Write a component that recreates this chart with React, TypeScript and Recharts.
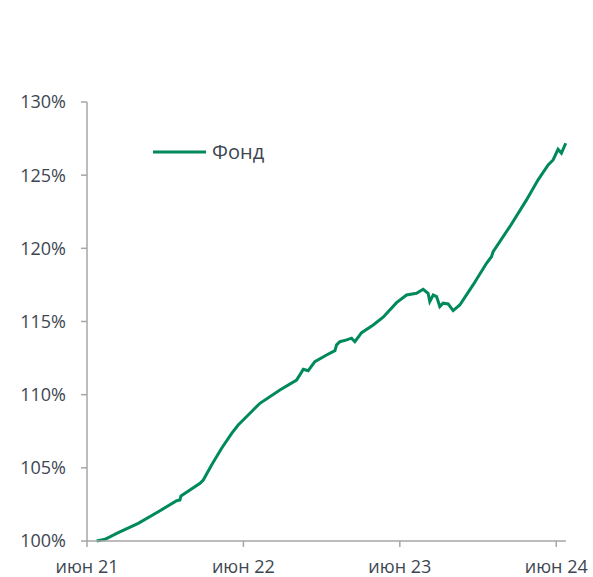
import { LineChart, Line, XAxis, YAxis } from "recharts";

// months since June 2021
const months = [
  0.74, 1.38, 2.4, 3.93, 5.47, 6.88, 7.13, 7.21, 8.67, 8.92, 9.56, 10.33, 11.1, 11.6, 12.75,
  13.27, 14.8, 16.08, 16.33, 16.59, 16.97, 17.48, 18.38, 19.02, 19.15, 19.4, 19.92, 20.3, 20.55,
  21.07, 21.96, 22.72, 23.75, 24.52, 25.28, 25.79, 26.17, 26.3, 26.56, 26.82, 27.07, 27.32,
  27.71, 28.09, 28.6, 29.62, 30.65, 31.03, 31.16, 32.44, 33.72, 34.61, 35.38, 35.76, 36.14,
  36.4, 36.73,
];

const fund = [
  100.0, 100.12, 100.57, 101.21, 102.0, 102.75, 102.8, 103.08, 103.94, 104.17, 105.19, 106.34,
  107.36, 107.93, 108.95, 109.41, 110.32, 111.0, 111.35, 111.74, 111.64, 112.26, 112.71, 113.01,
  113.4, 113.62, 113.74, 113.86, 113.62, 114.24, 114.76, 115.29, 116.29, 116.81, 116.93, 117.2,
  116.93, 116.36, 116.81, 116.7, 116.02, 116.25, 116.2, 115.74, 116.13, 117.5, 118.98, 119.43,
  119.77, 121.48, 123.31, 124.68, 125.7, 126.04, 126.77, 126.5, 127.18,
];

const xTicks = [0, 12, 24, 36];
const xTickLabels = ["июн 21", "июн 22", "июн 23", "июн 24"];
const yTicks = [100, 105, 110, 115, 120, 125, 130];

const data = months.map((m, i) => ({ m, fund: fund[i] }));

const GREEN = "#00895b";
const AXIS = "#a6a6a6";
const TEXT = "#3d4651";
const FONT = "'Open Sans', sans-serif";

export default function App() {
  return (
    <div style={{ position: "absolute", left: 0, top: 0, width: 593, height: 577, background: "#fff" }}>
      <LineChart
        width={593}
        height={577}
        data={data}
        margin={{ top: 102, right: 27, left: 0, bottom: 6 }}
      >
        <XAxis
          dataKey="m"
          type="number"
          domain={[0, 36.75]}
          ticks={xTicks}
          tickFormatter={(v: number) => xTickLabels[xTicks.indexOf(v)]}
          stroke={AXIS}
          strokeWidth={1.5}
          tickSize={6}
          tickMargin={13}
          height={30}
          tick={{ fill: TEXT, fontSize: 18, fontFamily: FONT }}
        />
        <YAxis
          type="number"
          domain={[100, 130]}
          ticks={yTicks}
          tickFormatter={(v: number) => `${v}%`}
          stroke={AXIS}
          strokeWidth={1.5}
          tickSize={6}
          tickMargin={15}
          width={87}
          tick={{ fill: TEXT, fontSize: 18, fontFamily: FONT }}
        />
        <Line
          dataKey="fund"
          name="Фонд"
          stroke={GREEN}
          strokeWidth={3}
          dot={false}
          type="linear"
          isAnimationActive={false}
        />
      </LineChart>
      {/* legend */}
      <svg width={140} height={26} style={{ position: "absolute", left: 153, top: 139 }}>
        <line x1={0} y1={13} x2={53} y2={13} stroke={GREEN} strokeWidth={3} />
        <text x={59} y={20} fontSize={20} fill={TEXT} fontFamily={FONT}>
          Фонд
        </text>
      </svg>
    </div>
  );
}
